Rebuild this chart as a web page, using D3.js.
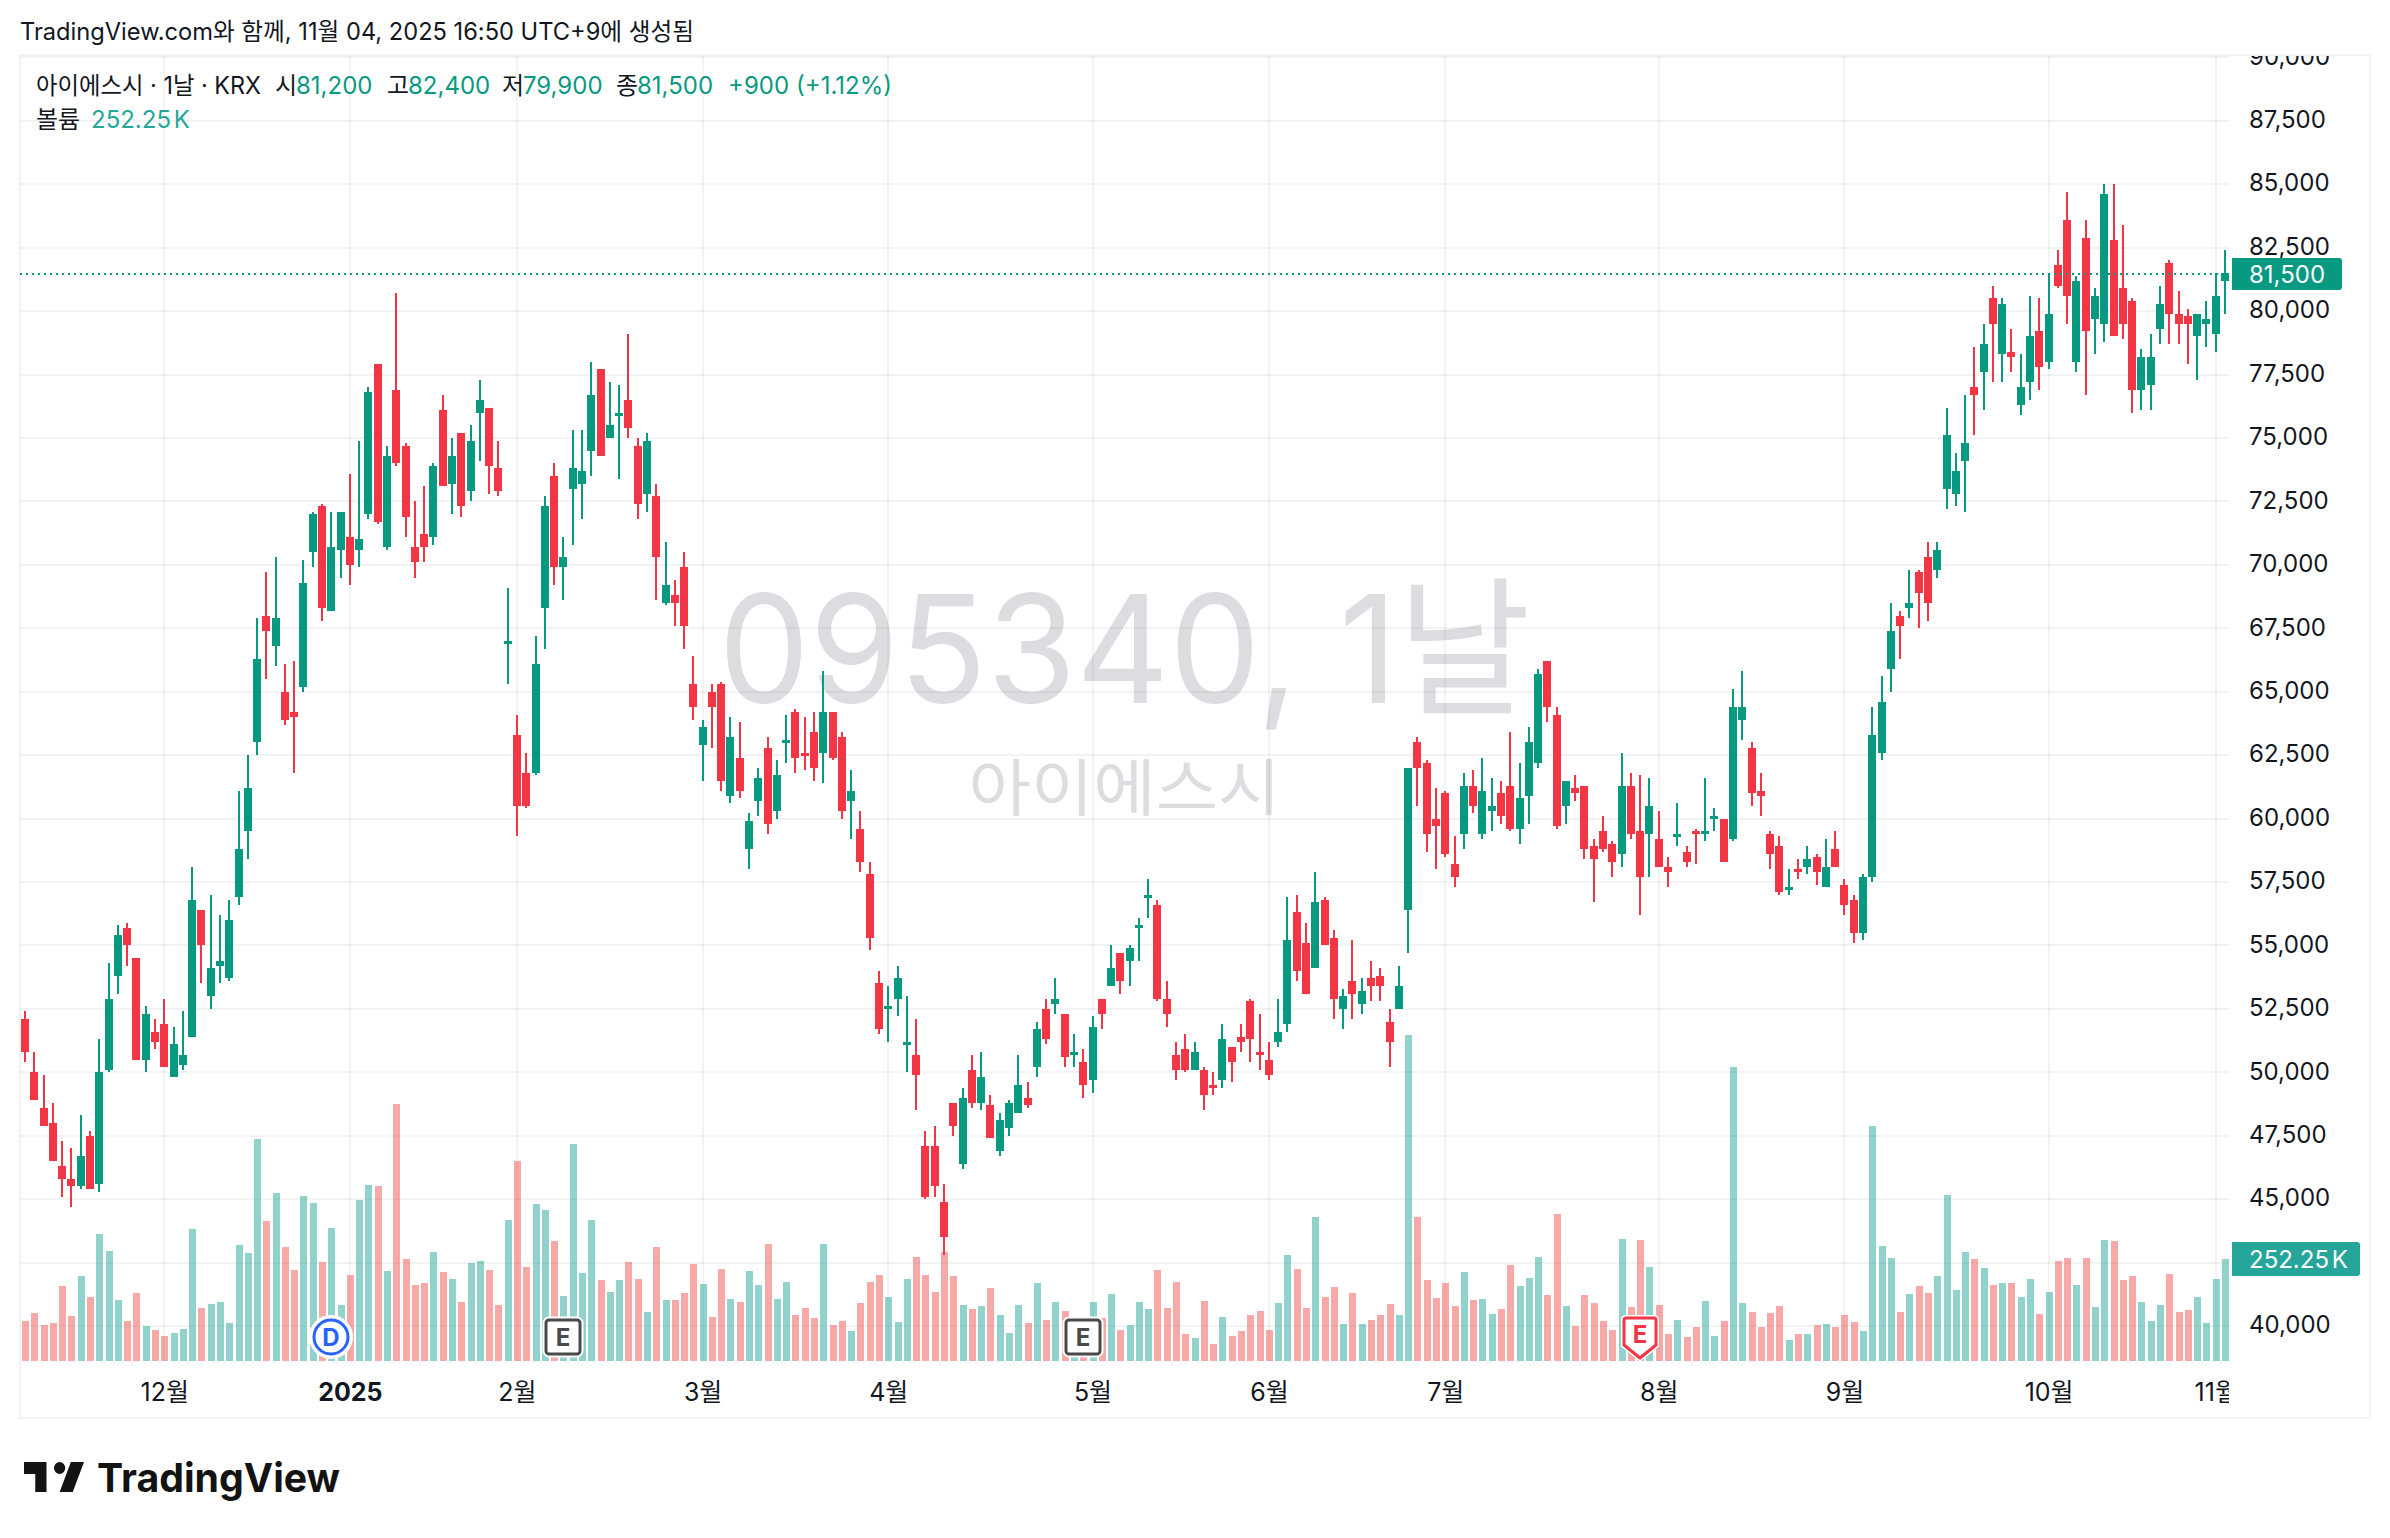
<!DOCTYPE html>
<html lang="ko">
<head>
<meta charset="utf-8">
<title>아이에스시 일봉</title>
<script src="https://cdn.jsdelivr.net/npm/d3@7/dist/d3.min.js"></script>
<style>
  html, body { margin: 0; padding: 0; background: #fff; }
  svg { display: block; }
  text { font-family: Inter, "Noto Sans CJK KR", sans-serif; }
</style>
</head>
<body>
<svg id="chart" width="2390" height="1538"></svg>
<script>
// Daily OHLC in KRW, oldest session first
const opens = [
52100,50000,48600,48000,46300,45800,45500,47500,45600,50100,53800,55700,54500,50500,51600,51900,49800,50300,51400,56400,
53000,54200,53700,56900,59500,63000,68000,66800,65000,64200,65200,70500,72300,68200,70600,71100,70600,72000,77900,70700,
76900,74700,70700,71200,71100,76100,73200,75200,72900,76000,76200,73800,67000,63300,61800,61800,68300,73500,69900,73000,
73200,74500,77700,75000,76000,76500,74700,72800,72700,68500,68800,69900,65300,62900,65000,65300,60900,62400,58800,60700,
62800,60300,63100,64200,62600,63400,62600,64200,63200,60700,59600,57800,53500,52600,52900,51200,50700,47100,47100,44900,
48800,46400,50100,48800,48700,46900,47800,48400,49000,50200,52500,52700,52300,50800,50400,49700,52900,53400,54700,54400,
55800,57000,56600,52900,50700,50900,50100,50100,49500,49700,51000,51400,52800,50800,50500,51200,51900,56300,55100,54100,
56800,55300,52500,53600,52700,53700,53800,52000,52500,56400,63000,62200,60000,61000,58200,59400,61300,59400,60300,61000,
61300,59600,60900,62200,66200,64100,60500,61200,61300,58900,59500,59000,58600,61300,59500,59400,59200,58100,59400,58700,
59500,59500,60100,60000,59200,63900,62800,61100,59400,58900,57300,58000,58100,58500,57300,58800,57400,56800,55500,57700,
62600,65900,68000,68300,69700,70300,69800,73000,72800,74100,77000,77600,80500,78300,78400,76300,77200,79200,78000,81800,
83600,78000,82900,79700,79500,82800,80900,80400,76900,77100,79300,81900,79900,79800,79000,79500,79100,81200];
const highs = [
52400,50800,49900,48800,47300,47000,48300,47700,51300,54300,55800,55900,54500,52600,52100,52900,51800,52400,58100,56400,
57000,56200,56800,61100,62500,67900,69700,70300,66100,66200,70200,72100,72400,72100,72100,73600,74900,77000,77900,74700,
80700,74800,72500,73100,74000,76700,75000,75200,75500,77300,76200,74900,69100,64100,62600,67200,72700,74000,71100,75300,
75300,78000,77700,77200,77100,79100,75000,75200,73200,70900,69400,70500,66400,63900,65300,65400,64000,63800,60200,62000,
63200,62300,64100,64300,64000,64200,65800,64200,63400,61900,60300,58300,54000,53400,54200,53000,52100,47700,47900,45600,
48800,49400,50700,50800,49100,48400,48900,50700,49600,52000,52900,53700,52300,51500,50900,52200,52900,55000,54700,55000,
56100,57600,56800,53600,51200,51500,51200,50200,50000,51900,51000,51900,52900,52300,51200,52900,56900,57000,55900,57900,
56900,55600,53300,55200,53700,54400,54100,52500,54200,62000,63200,62300,61200,61100,59300,61800,61900,62400,61600,61500,
63400,62200,63600,65900,66200,64400,61500,61700,61300,59200,60100,59100,62600,61800,61700,61600,60300,58500,60600,58900,
59600,61600,60400,60000,65100,65800,63000,61800,59500,59300,58000,58400,58900,58600,59200,59500,57600,57000,57800,64400,
65600,68500,68200,69800,69800,70900,70900,76200,74400,76700,78600,79500,81000,80500,79300,78300,80600,80500,81500,82400,
84700,81400,83600,80900,85000,85000,83400,80500,78500,79100,81000,82000,80800,80100,79900,80400,81500,82400];
const lows = [
50400,48900,47900,46500,45100,44700,45400,45400,45300,50000,53100,54200,50500,50000,50900,50200,49800,50100,51400,53500,
52500,53500,53600,56600,58400,62500,65500,66000,63700,61800,65000,69900,67800,68200,69500,69200,69900,71800,71600,70600,
73900,71100,69500,70100,70800,73100,72000,71900,72500,74100,72800,72700,65300,59300,60400,61700,66700,69200,68600,70800,
71800,73500,74300,75000,73400,75000,71800,72100,68600,68400,67600,66700,63900,61500,62800,61100,60600,60800,58000,60100,
59400,60000,62200,61800,61900,61500,61400,62300,60000,59200,57900,54800,51500,51200,52200,50000,48500,45000,45100,42800,
47500,46200,48600,48500,47400,46700,47500,48400,48600,49800,51100,52300,50200,50200,49000,49200,51700,53400,53100,53400,
54400,56100,52800,51800,49700,50000,50100,48500,49100,49400,49600,50800,50400,50100,49700,51000,51600,53600,53100,54100,
55000,52100,51700,52100,52300,52800,52800,50200,52500,54700,60500,58700,58000,58500,57300,58800,60200,59200,59500,59800,
59500,59000,59800,62000,63800,59600,59800,60700,58400,56700,58700,57700,58100,59200,56200,57700,58100,57300,58900,58100,
58200,59100,59500,58300,59100,63100,60500,60100,58000,57000,57000,57600,57800,57400,57300,58100,56200,55100,55200,57500,
62300,65000,66300,67900,67500,67800,69500,72200,72300,72100,75100,76100,77200,77200,77600,75900,76500,76900,77700,80900,
79500,77600,76700,78300,78800,79000,78900,76000,76100,76100,78700,78700,78700,77900,77300,78600,78400,79900];
const closes = [
50800,48900,47900,46500,45800,45500,46700,45400,50000,52900,55400,55000,50500,52300,51200,50200,51100,50700,56800,55000,
54100,54400,56000,58800,61200,66300,67400,67900,63900,64000,69300,72000,68300,70700,72100,70000,71000,76800,71700,74300,
74000,71900,70100,70700,73900,73100,74300,72300,74900,76500,73900,72900,67000,60500,60500,66100,72300,69900,70300,73800,
73700,76700,74300,75500,76000,75400,72400,74900,70300,69200,68500,67600,64400,63600,64400,61500,63200,61100,59900,61600,
59800,61700,63100,62400,62500,62000,64200,62400,60300,61100,58300,55300,51700,52600,53700,51200,49900,45100,45500,43500,
47900,49000,48800,49800,47400,48100,48800,49500,48700,51700,51300,52900,50600,50800,49500,51800,52300,54100,53600,54900,
55800,57000,52900,52300,50100,50100,50800,49100,49400,51300,50400,51200,51300,50700,49900,51600,55200,54000,53100,56700,
55000,52900,53000,53100,53200,53400,53400,51200,53400,62000,62000,59400,59700,58600,57700,61300,60500,61100,60500,60100,
59600,60800,63000,65700,64400,59700,61500,61000,58800,58400,58800,58300,61300,59400,57700,60500,58100,57900,59400,58300,
59400,59500,60100,58300,64400,64400,61000,60900,58600,57100,57300,57900,58400,57900,58100,58100,56600,55500,57700,63300,
64600,67400,67600,68500,68900,68500,70600,75100,73700,74800,76700,78700,79500,80300,78200,77000,79000,77800,79900,81000,
80600,81200,79200,80600,84600,79000,79500,76900,78200,78200,80300,79900,79500,79500,79900,79700,80600,81500];
// Session volume in thousands of shares
const volumes = [
99,119,89,94,185,111,210,158,314,272,151,99,168,87,77,62,69,79,326,131,
141,146,94,287,267,549,346,415,282,225,408,391,245,329,138,213,398,435,433,223,
636,252,188,193,270,220,203,146,242,247,225,138,349,495,232,388,373,297,161,537,
218,349,200,171,200,245,203,121,282,151,151,168,240,190,109,228,153,146,223,188,
289,153,195,114,131,106,289,89,99,74,143,195,213,158,96,203,257,213,171,270,
210,138,129,136,181,114,69,138,94,193,101,146,124,77,77,146,106,166,77,89,
146,129,225,131,195,67,57,148,42,109,62,74,114,124,77,143,262,228,131,356,
158,183,91,168,91,101,114,141,114,806,356,200,156,193,136,220,151,153,116,129,
237,185,205,257,163,364,136,87,163,143,99,77,302,134,299,232,138,67,101,59,
84,148,62,99,727,143,121,84,119,136,52,67,67,89,91,84,114,96,74,581,
284,255,121,166,185,168,210,410,176,270,252,230,188,193,193,158,203,116,171,247,
255,188,255,134,299,297,200,210,146,99,138,215,121,126,158,94,203,252.25];

const monthIndex = [15,35,53,73,93,115,134,153,176,196,218,236];
const monthLabels = ["12월","2025","2월","3월","4월","5월","6월","7월","8월","9월","10월","11월"];
const priceTicks = d3.range(40000, 90001, 2500);
// The 42,500 level keeps its grid line; the volume tag occupies its label slot
const priceLabelTicks = priceTicks.filter(d => d !== 42500);

// Corporate-event badges: session index and kind
const eventIndex = [33,58,114,174];
const eventKind = ["dividend","earnings","earnings","earningsMiss"];

const symbolLine = "아이에스시 · 1날 · KRX";
const lastPrice = closes[closes.length - 1];
const lastVolumeLabel = "252.25 K";

const UP = "#089981", DOWN = "#f23645";
const VOL_UP = "rgba(38,166,154,.5)", VOL_DOWN = "rgba(239,83,80,.5)";
const GRID = "rgba(42,46,57,.06)", FRAME = "#f2f3f5", INK = "#131722";

const pane = { left: 20, right: 2229, top: 56, volumeBase: 1361, bottom: 1418, outerRight: 2370 };

const svg = d3.select("#chart");
svg.append("rect").attr("width", 2390).attr("height", 1538).attr("fill", "#fff");

const defs = svg.append("defs");
defs.append("clipPath").attr("id", "plot-clip").append("rect")
  .attr("x", pane.left).attr("y", pane.top)
  .attr("width", pane.right - pane.left).attr("height", pane.volumeBase - pane.top);
defs.append("clipPath").attr("id", "price-clip").append("rect")
  .attr("x", pane.right).attr("y", pane.top)
  .attr("width", pane.outerRight - pane.right).attr("height", pane.bottom - pane.top);
defs.append("clipPath").attr("id", "time-clip").append("rect")
  .attr("x", pane.left).attr("y", pane.volumeBase)
  .attr("width", pane.right - pane.left).attr("height", pane.bottom - pane.volumeBase);

const x = d3.scaleLinear().domain([0, closes.length - 1]).range([25, 2225]);
const y = d3.scaleLinear().domain([40000, 90000]).range([1326, 57.4]);
const v = d3.scaleLinear().domain([0, 806]).range([pane.volumeBase, 1035]);
const px = i => Math.round(x(i));
const py = p => Math.round(y(p));

// Outer frame
svg.append("rect")
  .attr("x", pane.left).attr("y", 55)
  .attr("width", pane.outerRight - pane.left).attr("height", pane.bottom - 55)
  .attr("fill", "none").attr("stroke", FRAME).attr("stroke-width", 2);

// Watermark sits under everything in the pane
const mark = svg.append("g").attr("text-anchor", "middle").attr("fill", "#dcdde0");
mark.append("text").attr("x", 1124.5).attr("y", 703).attr("font-size", 150)
  .attr("textLength", 812).attr("lengthAdjust", "spacingAndGlyphs").text("095340, 1날");
mark.append("text").attr("x", 1124.5).attr("y", 811).attr("font-size", 62)
  .attr("textLength", 312).attr("lengthAdjust", "spacingAndGlyphs").text("아이에스시");

// Grid
const grid = svg.append("g").attr("stroke", GRID).attr("stroke-width", 2);
grid.selectAll("line.h").data(priceTicks).join("line").attr("class", "h")
  .attr("x1", pane.left).attr("x2", pane.right)
  .attr("y1", py).attr("y2", py);
grid.selectAll("line.v").data(monthIndex).join("line").attr("class", "v")
  .attr("x1", px).attr("x2", px)
  .attr("y1", pane.top).attr("y2", pane.volumeBase);

const plot = svg.append("g").attr("clip-path", "url(#plot-clip)");
const sessions = d3.range(closes.length);
const isUp = i => closes[i] >= opens[i];

// Volume histogram
plot.append("g").selectAll("rect").data(sessions).join("rect")
  .attr("x", i => px(i) - 3).attr("width", 7)
  .attr("y", i => Math.round(v(volumes[i])))
  .attr("height", i => pane.volumeBase - Math.round(v(volumes[i])))
  .attr("fill", i => isUp(i) ? VOL_UP : VOL_DOWN);

// Candles
const candles = plot.append("g").selectAll("g").data(sessions).join("g")
  .attr("fill", i => isUp(i) ? UP : DOWN);
candles.append("rect")
  .attr("x", i => px(i) - 1).attr("width", 2)
  .attr("y", i => py(highs[i])).attr("height", i => py(lows[i]) - py(highs[i]));
candles.append("rect")
  .attr("x", i => px(i) - 4).attr("width", 8)
  .attr("y", i => py(Math.max(opens[i], closes[i])))
  .attr("height", i => Math.max(3, Math.abs(py(opens[i]) - py(closes[i]))));

// Dotted last-price line, drawn over the candles
plot.append("line")
  .attr("x1", pane.left).attr("x2", pane.right)
  .attr("y1", py(lastPrice) + 1).attr("y2", py(lastPrice) + 1)
  .attr("stroke", UP).attr("stroke-width", 2).attr("stroke-dasharray", "2 4");

// Event badges along the foot of the pane
const badges = svg.append("g").selectAll("g").data(eventIndex).join("g")
  .attr("transform", i => `translate(${px(i)},1337)`);
badges.each(function (i, n) {
  const g = d3.select(this), kind = eventKind[n];
  const letter = (label, color) => g.append("text")
    .attr("text-anchor", "middle").attr("y", 9).attr("font-size", 24).attr("font-weight", 700)
    .attr("fill", color).text(label);
  if (kind === "dividend") {
    g.append("circle").attr("r", 19).attr("fill", "#fff").attr("stroke", "#fff").attr("stroke-width", 6);
    g.append("circle").attr("r", 17).attr("fill", "#fff").attr("stroke", "#2962ff").attr("stroke-width", 3);
    letter("D", "#2962ff");
  } else if (kind === "earnings") {
    g.append("rect").attr("x", -19).attr("y", -19).attr("width", 38).attr("height", 38).attr("rx", 5)
      .attr("fill", "#fff").attr("stroke", "#fff").attr("stroke-width", 3);
    g.append("rect").attr("x", -17).attr("y", -17).attr("width", 34).attr("height", 34).attr("rx", 3)
      .attr("fill", "#fff").attr("stroke", "#4a4a4a").attr("stroke-width", 3);
    letter("E", "#4a4a4a");
  } else {
    const shield = "M-16,-17 Q-16,-19 -14,-19 H14 Q16,-19 16,-17 V8 L0,21 L-16,8 Z";
    g.append("path").attr("d", shield).attr("fill", "#fff").attr("stroke", "#fff").attr("stroke-width", 6);
    g.append("path").attr("d", shield).attr("fill", "#fff").attr("stroke", DOWN).attr("stroke-width", 3)
      .attr("stroke-linejoin", "round");
    letter("E", DOWN).attr("y", 6);
  }
});

// Price axis; its labels may be cut by the pane's top edge
const priceAxis = d3.axisRight(y).tickValues(priceLabelTicks).tickSize(0).tickPadding(20)
  .tickFormat(d3.format(","));
const priceG = svg.append("g").attr("clip-path", "url(#price-clip)").append("g")
  .attr("transform", `translate(${pane.right},0)`).call(priceAxis);
priceG.select(".domain").remove();
priceG.attr("font-family", null);
priceG.selectAll("text").attr("font-size", 24).attr("fill", INK).attr("dy", "0.28em");

// Time axis; the last month label runs out under the price scale
const timeAxis = d3.axisBottom(x).tickValues(monthIndex).tickSize(0).tickPadding(22)
  .tickFormat((d, n) => monthLabels[n]);
const timeG = svg.append("g").attr("clip-path", "url(#time-clip)").append("g")
  .attr("transform", `translate(0,${pane.volumeBase})`).call(timeAxis);
timeG.select(".domain").remove();
timeG.attr("font-family", null);
timeG.selectAll("text").attr("font-size", 25).attr("fill", INK)
  .attr("font-weight", d => monthLabels[monthIndex.indexOf(d)] === "2025" ? 700 : 400);

// Last-value tags on the price scale
function tag(top, bottom, right, color, label) {
  const r = 3, l = pane.right + 3;
  svg.append("path")
    .attr("d", `M${l},${top} H${right - r} Q${right},${top} ${right},${top + r} V${bottom - r} Q${right},${bottom} ${right - r},${bottom} H${l} Z`)
    .attr("fill", color);
  svg.append("text").attr("x", pane.right + 20).attr("y", (top + bottom) / 2 + 8.5)
    .attr("font-size", 24).attr("word-spacing", -4).attr("fill", "#fff").text(label);
}
tag(258, 290, 2342, UP, d3.format(",")(lastPrice));
tag(1242, 1276, 2360, "#26a69a", lastVolumeLabel);

// Title line and session legend
svg.append("text").attr("x", 20).attr("y", 40).attr("font-size", 24).attr("fill", INK)
  .attr("textLength", 674).attr("lengthAdjust", "spacingAndGlyphs")
  .text("TradingView.com와 함께, 11월 04, 2025 16:50 UTC+9에 생성됨");

const legendParts = [
  [275, "시", INK], [296, "81,200", UP], [387, "고", INK], [408, "82,400", UP],
  [502, "저", INK], [523, "79,900", UP], [616, "종", INK], [637, "81,500", UP],
  [728, "+900", UP], [796, "(+1.12%)", UP]
];
svg.append("text").attr("x", 36).attr("y", 94).attr("font-size", 24).attr("fill", INK)
  .attr("textLength", 225).attr("lengthAdjust", "spacingAndGlyphs").text(symbolLine);
svg.append("g").attr("font-size", 24).selectAll("text").data(legendParts).join("text")
  .attr("x", d => d[0]).attr("y", 94).attr("fill", d => d[2]).text(d => d[1]);
svg.append("text").attr("x", 36).attr("y", 128).attr("font-size", 24).attr("fill", INK).text("볼륨");
svg.append("text").attr("x", 91).attr("y", 128).attr("font-size", 24).attr("word-spacing", -4)
  .attr("fill", "#26a69a").text(lastVolumeLabel);

// Wordmark in the footer
svg.append("path")
  .attr("transform", "translate(20.25,1450) scale(1.875,2)")
  .attr("fill", "#131313")
  .attr("d", "M14 6H2v6h6v9h6V6Zm14 15h-7l6-15h7l-6 15Zm-7-9a3 3 0 1 0 0-6 3 3 0 0 0 0 6Z");
svg.append("text").attr("x", 97).attr("y", 1492).attr("font-size", 40).attr("font-weight", 700)
  .attr("fill", "#131313").attr("textLength", 243).attr("lengthAdjust", "spacingAndGlyphs").text("TradingView");
</script>
</body>
</html>
